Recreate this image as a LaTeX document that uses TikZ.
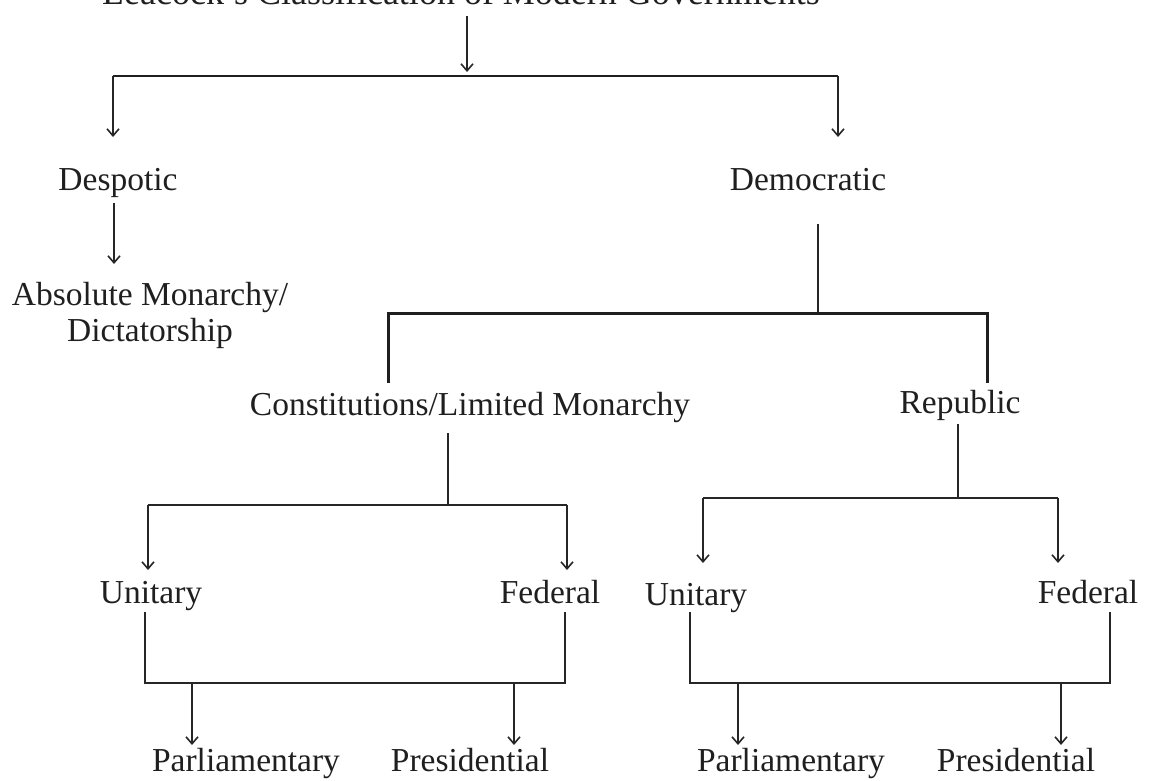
\documentclass[tikz,border=0pt]{standalone}
\usepackage{fontspec}
\setmainfont{Liberation Serif}
\usetikzlibrary{arrows.meta}
\begin{document}
\begin{tikzpicture}[x=1pt,y=-1pt,
  lbl/.style={inner sep=0pt,anchor=base,font=\fontsize{33.5}{36}\selectfont,text=black!88},
  conn/.style={line width=1.7pt,draw=black!85},
  thick conn/.style={line width=3pt,draw=black!88},
  arr/.style={conn,-{Straight Barb[length=7pt,width=12pt,line width=1.6pt]}}]
\useasboundingbox (0,0) rectangle (1156,780);
\clip (0,0) rectangle (1156,780);
% texts
\node[lbl,font=\fontsize{36}{38}\selectfont] (title) at (461,4) {Leacock's Classification of Modern Governments};
\node[lbl] (desp) at (118,190) {Despotic};
\node[lbl] (demo) at (808,190) {Democratic};
\node[lbl,align=center,anchor=north] (abs) at (150,282) {Absolute Monarchy/\\Dictatorship};
\node[lbl] (const) at (470,415) {Constitutions/Limited Monarchy};
\node[lbl] (rep) at (960,413) {Republic};
\node[lbl] (unL) at (151,603) {Unitary};
\node[lbl] (feL) at (550,603) {Federal};
\node[lbl] (unR) at (696,605) {Unitary};
\node[lbl] (feR) at (1088,603) {Federal};
\node[lbl] (paL) at (246,771) {Parliamentary};
\node[lbl] (prL) at (470,771) {Presidential};
\node[lbl] (paR) at (791,771) {Parliamentary};
\node[lbl] (prR) at (1016,771) {Presidential};
% junction coordinates
\coordinate (t0) at (467,16);
\coordinate (t1) at (467,72);
\coordinate (tl) at (113,76);
\coordinate (tr) at (838,76);
\coordinate (dtop) at (818,224);
\coordinate (dj) at (818,313);
\coordinate (dl) at (388,313);
\coordinate (dr) at (987,313);
\coordinate (cj) at (448,505);
\coordinate (cl) at (148,505);
\coordinate (cr) at (567,505);
\coordinate (rj) at (958,498);
\coordinate (rl) at (703,498);
\coordinate (rr) at (1058,498);
\coordinate (bl1) at (145,683);
\coordinate (bl2) at (565,683);
\coordinate (br1) at (690,683);
\coordinate (br2) at (1110,683);
% connectors
\draw[arr] (t0) -- (t1);
\draw[line width=2.2pt,draw=black!88] (tl) -- (tr);
\draw[arr] (tl) -- (113,137);
\draw[arr] (tr) -- (838,137);
\draw[arr] (114,203) -- (114,264);
\draw[conn] (dtop) -- (dj);
\draw[thick conn] (388,383) -- (dl) -- (dr) -- (987,383);
\draw[conn] (448,433) -- (cj);
\draw[conn] (cl) -- (cr);
\draw[arr] (cl) -- (148,570);
\draw[arr] (cr) -- (567,570);
\draw[conn] (958,424) -- (rj);
\draw[conn] (rl) -- (rr);
\draw[arr] (rl) -- (703,563);
\draw[arr] (rr) -- (1058,563);
\draw[conn] (145,612) -- (bl1) -- (bl2) -- (565,612);
\draw[arr] (192,683) -- (192,745);
\draw[arr] (514,683) -- (514,745);
\draw[conn] (690,612) -- (br1) -- (br2) -- (1110,612);
\draw[arr] (738,683) -- (738,745);
\draw[arr] (1061,683) -- (1061,745);
\end{tikzpicture}
\end{document}
